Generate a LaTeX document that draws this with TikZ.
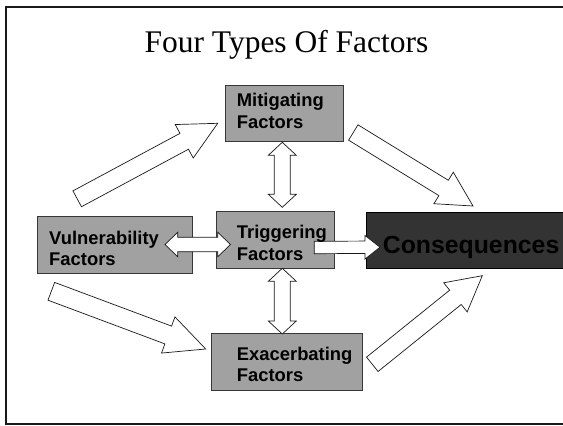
\documentclass[tikz,border=0pt]{standalone}
\usepackage{fontspec}
\setmainfont{Liberation Serif}
\newfontfamily\boxfont{Liberation Sans}
\usetikzlibrary{calc}
\definecolor{boxgray}{RGB}{161,161,161}
\definecolor{boxedge}{RGB}{55,55,55}
\definecolor{darkbox}{RGB}{51,51,51}
\tikzset{
  factor/.style={draw=boxedge, line width=0.8pt, fill=boxgray, inner sep=0pt},
  conbox/.style={draw=black, line width=0.8pt, fill=darkbox, inner sep=0pt},
  lbl/.style={font=\boxfont\bfseries\fontsize{18.4}{21.8}\selectfont, align=left, inner sep=0pt, anchor=north west},
  conlbl/.style={font=\boxfont\bfseries\fontsize{24.8}{28}\selectfont, inner sep=0pt, anchor=base west, text=black},
  blockarrow/.style={draw=black!90, fill=white, line width=0.7pt, line join=miter},
  frame/.style={draw=black!90, line width=2pt},
}
% tail, tip, half shaft width, half head width, head length
\newcommand\blockarr[5]{%
  \coordinate (hb) at ($(#2)!#5pt!(#1)$);
  \draw[blockarrow] ($(#1)!#3pt!90:(#2)$) -- ($(hb)!#3pt!90:(#2)$) -- ($(hb)!#4pt!90:(#2)$) -- (#2)
    -- ($(hb)!#4pt!-90:(#2)$) -- ($(hb)!#3pt!-90:(#2)$) -- ($(#1)!#3pt!-90:(#2)$) -- cycle;
}
% end 1, end 2, half shaft width, half head width, head length
\newcommand\dblarr[5]{%
  \coordinate (ha) at ($(#1)!#5pt!(#2)$);
  \coordinate (hb) at ($(#2)!#5pt!(#1)$);
  \draw[blockarrow] (#1) -- ($(ha)!#4pt!90:(#2)$) -- ($(ha)!#3pt!90:(#2)$) -- ($(hb)!#3pt!90:(#2)$)
    -- ($(hb)!#4pt!90:(#2)$) -- (#2) -- ($(hb)!#4pt!-90:(#2)$) -- ($(hb)!#3pt!-90:(#2)$)
    -- ($(ha)!#3pt!-90:(#2)$) -- ($(ha)!#4pt!-90:(#2)$) -- cycle;
}
\begin{document}
\begin{tikzpicture}[x=1pt, y=-1pt]
\useasboundingbox (0,0) rectangle (563,426);
\clip (0,0) rectangle (563,426);
\fill[white] (0,0) rectangle (563,426);
\draw[frame] (6,6.5) rectangle (575,424);

\node[font=\fontsize{31.5}{36}\selectfont, anchor=base] (title) at (286.5,52.7) {Four Types Of Factors};

% boxes
\node[factor, minimum width=117.6pt, minimum height=56pt] (mit) at (284.5,113.7) {};
\node[factor, minimum width=155pt, minimum height=57.4pt] (vul) at (115.2,245) {};
\node[factor, minimum width=117.3pt, minimum height=56.3pt] (trig) at (275.35,239.85) {};
\node[conbox, minimum width=208.3pt, minimum height=56pt] (cons) at (470.85,240.3) {};
\node[factor, minimum width=150.6pt, minimum height=56.6pt] (exa) at (287,362) {};

% arrow end points
\coordinate (vm1) at (77.2,198.8);  \coordinate (vm2) at (217.7,123.3);
\coordinate (mc1) at (353.3,132.5); \coordinate (mc2) at (473,206);
\coordinate (ve1) at (51.3,291.3);  \coordinate (ve2) at (205.7,349);
\coordinate (ec1) at (372.3,364.3); \coordinate (ec2) at (482.3,275.7);
\coordinate (tc1) at (314.3,247.5); \coordinate (tc2) at (380,247.2);
\coordinate (mt1) at (282.3,142.3); \coordinate (mt2) at (282.3,207.3);
\coordinate (te1) at (282.3,268.3); \coordinate (te2) at (282.3,334);
\coordinate (vt1) at (165,244.5);   \coordinate (vt2) at (230.5,244.5);

% block arrows
\blockarr{vm1}{vm2}{9}{19}{38}
\blockarr{mc1}{mc2}{9}{18.5}{34.5}
\blockarr{ve1}{ve2}{9.5}{19.3}{40}
\blockarr{ec1}{ec2}{9.2}{18.7}{34.5}
\blockarr{tc1}{tc2}{6.2}{11.8}{15}
\dblarr{mt1}{mt2}{8}{14}{13}
\dblarr{te1}{te2}{8}{14}{13}
\dblarr{vt1}{vt2}{7.2}{12.2}{12.7}

% labels
\node[lbl] (mitl) at (236.7,92.8) {Mitigating\\Factors};
\node[lbl] (vull) at (49,230.5) {Vulnerability\\Factors};
\node[lbl] (trigl) at (236.7,224.8) {Triggering\\Factors};
\node[lbl] (exal) at (236.7,346.5) {Exacerbating\\Factors};
\node[conlbl] (consl) at (382.7,253.3) {Consequences};
\end{tikzpicture}
\end{document}
